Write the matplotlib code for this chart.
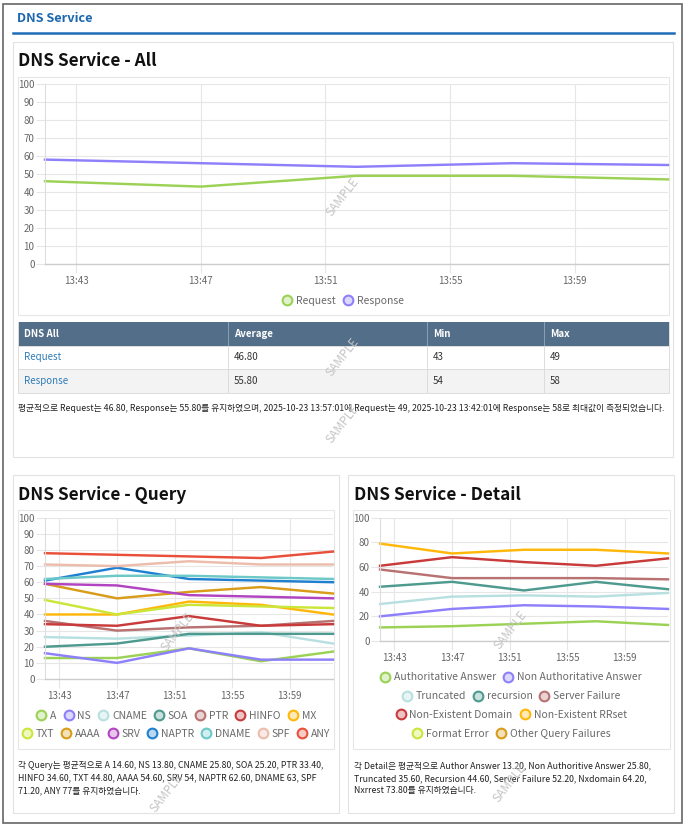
import matplotlib
matplotlib.use('Agg')
import matplotlib.pyplot as plt
from matplotlib.patches import Rectangle
from matplotlib.lines import Line2D
from matplotlib.colors import to_rgba

# ---------------- data ----------------
times = ['13:42', '13:47', '13:52', '13:57', '14:02']
tick_labels = ['13:43', '13:47', '13:51', '13:55', '13:59']

all_names = ['Request', 'Response']
request = [46, 43, 49, 49, 47]
response = [58, 56, 54, 56, 55]
all_colors = ['#9bd255', '#8e80fa']

query_names = ['A', 'NS', 'CNAME', 'SOA', 'PTR', 'HINFO', 'MX',
               'TXT', 'AAAA', 'SRV', 'NAPTR', 'DNAME', 'SPF', 'ANY']
q_A = [13, 13, 19, 11, 17]
q_NS = [16, 10, 19, 12, 12]
q_CNAME = [26, 25, 27, 29, 22]
q_SOA = [20, 22, 28, 28, 28]
q_PTR = [36, 30, 32, 33, 36]
q_HINFO = [34, 33, 39, 33, 34]
q_MX = [40, 40, 48, 46, 40]
q_TXT = [49, 40, 46, 45, 44]
q_AAAA = [59, 50, 54, 57, 53]
q_SRV = [59, 58, 52, 51, 50]
q_NAPTR = [61, 69, 62, 61, 60]
q_DNAME = [62, 64, 64, 63, 62]
q_SPF = [71, 70, 73, 71, 71]
q_ANY = [78, 77, 76, 75, 79]
query_values = [q_A, q_NS, q_CNAME, q_SOA, q_PTR, q_HINFO, q_MX,
                q_TXT, q_AAAA, q_SRV, q_NAPTR, q_DNAME, q_SPF, q_ANY]

palette = ['#9bd255', '#8e80fa', '#b8e0e0', '#4e9a8e', '#b87272', '#c93a3a', '#ffb70a',
           '#cbe638', '#d89c1a', '#b244c2', '#1f80d2', '#6dc8c8', '#ecbcac', '#e8503c']

detail_names = ['Authoritative Answer', 'Non Authoritative Answer', 'Truncated', 'recursion',
                'Server Failure', 'Non-Existent Domain', 'Non-Existent RRset',
                'Format Error', 'Other Query Failures']
d_auth = [11, 12, 14, 16, 13]
d_nonauth = [20, 26, 29, 28, 26]
d_trunc = [30, 36, 37, 36, 39]
d_recur = [44, 48, 41, 48, 42]
d_servfail = [58, 51, 51, 51, 50]
d_nxdomain = [61, 68, 64, 61, 67]
d_nxrrset = [79, 71, 74, 74, 71]
d_formerr = []
d_other = []
detail_values = [d_auth, d_nonauth, d_trunc, d_recur, d_servfail, d_nxdomain,
                 d_nxrrset, d_formerr, d_other]

text_all = ('평균적으로 Request는 46.80, Response는 55.80를 유지하였으며, 2025-10-23 13:57:01에 '
            'Request는 49, 2025-10-23 13:42:01에 Response는 58로 최대값이 측정되었습니다.')
text_query = ['각 Query는 평균적으로 A 14.60, NS 13.80, CNAME 25.80, SOA 25.20, PTR 33.40,',
              'HINFO 34.60, TXT 44.80, AAAA 54.60, SRV 54, NAPTR 62.60, DNAME 63, SPF',
              '71.20, ANY 77를 유지하였습니다.']
text_detail = ['각 Detail은 평균적으로 Author Answer 13.20, Non Authoritive Answer 25.80,',
               'Truncated 35.60, Recursion 44.60, Server Failure 52.20, Nxdomain 64.20,',
               'Nxrrest 73.80를 유지하였습니다.']

# ---------------- setup ----------------
plt.rcParams['font.family'] = ['Noto Sans CJK KR', 'DejaVu Sans']
W, H = 686, 827
fig = plt.figure(figsize=(W / 100, H / 100), dpi=100)
fig.patch.set_facecolor('white')


def fx(x):
    return x / W


def fy(y):
    return 1 - y / H


def rect(x0, y0, x1, y1, **kw):
    kw.setdefault('zorder', -5)
    fig.patches.append(Rectangle((fx(x0), fy(y1)), (x1 - x0) / W, (y1 - y0) / H,
                                 transform=fig.transFigure, **kw))


def hline(x0, x1, y, **kw):
    kw.setdefault('zorder', -4)
    fig.add_artist(Line2D([fx(x0), fx(x1)], [fy(y), fy(y)], transform=fig.transFigure, **kw))


def vline(x, y0, y1, **kw):
    kw.setdefault('zorder', -4)
    fig.add_artist(Line2D([fx(x), fx(x)], [fy(y0), fy(y1)], transform=fig.transFigure, **kw))


def to_min(t):
    h, m = t.split(':')
    return int(h) * 60 + int(m)


base = to_min(times[0])
xs = [to_min(t) - base for t in times]
xt = [to_min(t) - base for t in tick_labels]

GRID = '#e6e6e6'
FS_TXT = 6.3
LW = 1.75


def make_axes(x0, y0, x1, y1, step_label):
    ax = fig.add_axes([fx(x0), fy(y1), (x1 - x0) / W, (y1 - y0) / H])
    ax.set_facecolor('none')
    ax.set_xlim(xs[0], xs[-1])
    ax.set_ylim(0, 100)
    ax.set_xticks(xt)
    ax.set_xticklabels(tick_labels)
    ax.set_yticks(list(range(0, 101, step_label)))
    for s in ['top', 'right']:
        ax.spines[s].set_visible(False)
    ax.spines['left'].set_color('#dddddd')
    ax.spines['bottom'].set_color('#cccccc')
    ax.spines['bottom'].set_linewidth(1.0)
    ax.spines['left'].set_linewidth(0.8)
    ax.grid(True, color=GRID, lw=0.8)
    ax.set_axisbelow(True)
    ax.tick_params(axis='both', length=6.5, color=GRID, width=0.8,
                   labelsize=7, labelcolor='#666666')
    ax.tick_params(axis='y', pad=1)
    ax.tick_params(axis='x', pad=2)
    return ax


def legend_row(names, colors, cx, cy, fs=7.5):
    handles = [Line2D([], [], marker='o', linestyle='', markersize=7,
                      markeredgewidth=1.5, markeredgecolor=c,
                      markerfacecolor=to_rgba(c, 0.3)) for c in colors]
    leg = fig.legend(handles, names, loc='center', bbox_to_anchor=(fx(cx), fy(cy)),
                     ncol=len(names), frameon=False, fontsize=fs, handletextpad=0.35,
                     columnspacing=0.65, handlelength=1.0, borderaxespad=0, borderpad=0,
                     labelcolor='#6a6a6a')
    return leg


def watermark(x, y):
    fig.text(fx(x), fy(y), 'SAMPLE', rotation=52, fontsize=8.5, color='#c4c4c4',
             ha='center', va='center', zorder=20)


# ---------------- frames ----------------
rect(3, 4, 682, 823, facecolor='white', edgecolor='#666666', lw=1.2, zorder=-10)
fig.text(fx(17), fy(19), 'DNS Service', fontsize=9.2, fontweight='bold', color='#1a66b0',
         ha='left', va='center')
hline(13, 674, 32.5, color='#1f6db8', lw=1.8)

# panel 1
rect(13, 42, 673, 457, facecolor='white', edgecolor='#e2e2e2', lw=0.8)
fig.text(fx(18), fy(61), 'DNS Service - All', fontsize=12.4, fontweight='bold', color='#111111',
         ha='left', va='center')
rect(18, 77, 669, 315, facecolor='white', edgecolor='#e6e6e6', lw=0.8)
ax1 = make_axes(45, 84, 668, 264, 10)
for vals, c in zip([request, response], all_colors):
    ax1.plot(xs, vals, color=c, lw=LW, clip_on=False, solid_joinstyle='round')
legend_row(all_names, all_colors, 343, 301)

# table
col_x = [18, 228, 427, 544, 669]
row_y = [322, 346, 369, 393]
rect(18, 322, 669, 346, facecolor='#526e88', edgecolor='none')
rect(18, 346, 669, 369, facecolor='white', edgecolor='none')
rect(18, 369, 669, 393, facecolor='#f3f3f3', edgecolor='none')
for xv in col_x[1:-1]:
    vline(xv, 322, 346, color='#8aa0b4', lw=0.7)
    vline(xv, 346, 393, color='#dcdcdc', lw=0.7)
for yv in row_y[1:]:
    hline(18, 669, yv, color='#dcdcdc', lw=0.7)
vline(18, 322, 393, color='#dcdcdc', lw=0.7)
vline(669, 322, 393, color='#dcdcdc', lw=0.7)
headers = ['DNS All', 'Average', 'Min', 'Max']
for i, h in enumerate(headers):
    fig.text(fx(col_x[i] + 6), fy(334), h, fontsize=7, fontweight='bold', color='white',
             ha='left', va='center')
for r, (name, vals) in enumerate(zip(all_names, [request, response])):
    yc = (row_y[r + 1] + row_y[r + 2]) / 2
    cells = [name, f'{sum(vals) / len(vals):.2f}', f'{min(vals)}', f'{max(vals)}']
    for i, cval in enumerate(cells):
        fig.text(fx(col_x[i] + 6), fy(yc), cval, fontsize=7,
                 color='#2f7db8' if i == 0 else '#333333', ha='left', va='center')
fig.text(fx(18), fy(408), text_all, fontsize=FS_TXT, color='#222222', ha='left', va='center')

# panel 2 - Query
rect(13, 475, 339, 813, facecolor='white', edgecolor='#e2e2e2', lw=0.8)
fig.text(fx(18), fy(495), 'DNS Service - Query', fontsize=12.4, fontweight='bold', color='#111111',
         ha='left', va='center')
rect(18, 510, 334, 749, facecolor='white', edgecolor='#e6e6e6', lw=0.8)
ax2 = make_axes(45, 517.7, 333, 679, 10)
for vals, c in zip(query_values, palette):
    if vals:
        ax2.plot(xs, vals, color=c, lw=LW, clip_on=False, solid_joinstyle='round')
legend_row(query_names[:7], palette[:7], 176, 716)
legend_row(query_names[7:], palette[7:], 176, 734)
for i, line in enumerate(text_query):
    fig.text(fx(18), fy(765 + 13 * i), line, fontsize=FS_TXT, color='#222222', ha='left', va='center')

# panel 3 - Detail
rect(348, 475, 674, 813, facecolor='white', edgecolor='#e2e2e2', lw=0.8)
fig.text(fx(354), fy(495), 'DNS Service - Detail', fontsize=12.4, fontweight='bold', color='#111111',
         ha='left', va='center')
rect(353, 510, 670, 749, facecolor='white', edgecolor='#e6e6e6', lw=0.8)
ax3 = make_axes(380, 517.7, 668, 641, 20)
for vals, c in zip(detail_values, palette):
    if vals:
        ax3.plot(xs, vals, color=c, lw=LW, clip_on=False, solid_joinstyle='round')
rows = [(0, 2), (2, 5), (5, 7), (7, 9)]
for k, (a, b) in enumerate(rows):
    legend_row(detail_names[a:b], palette[a:b], 511, 677.5 + 18.8 * k)
for i, line in enumerate(text_detail):
    fig.text(fx(354), fy(766 + 12.5 * i), line, fontsize=FS_TXT, color='#222222', ha='left', va='center')

# watermarks
for (wx, wy) in [(343, 197), (343, 357), (343, 424), (178, 632), (167, 793), (511, 630), (510, 783)]:
    watermark(wx, wy)

fig.savefig('out.png', dpi=100, facecolor='white')
